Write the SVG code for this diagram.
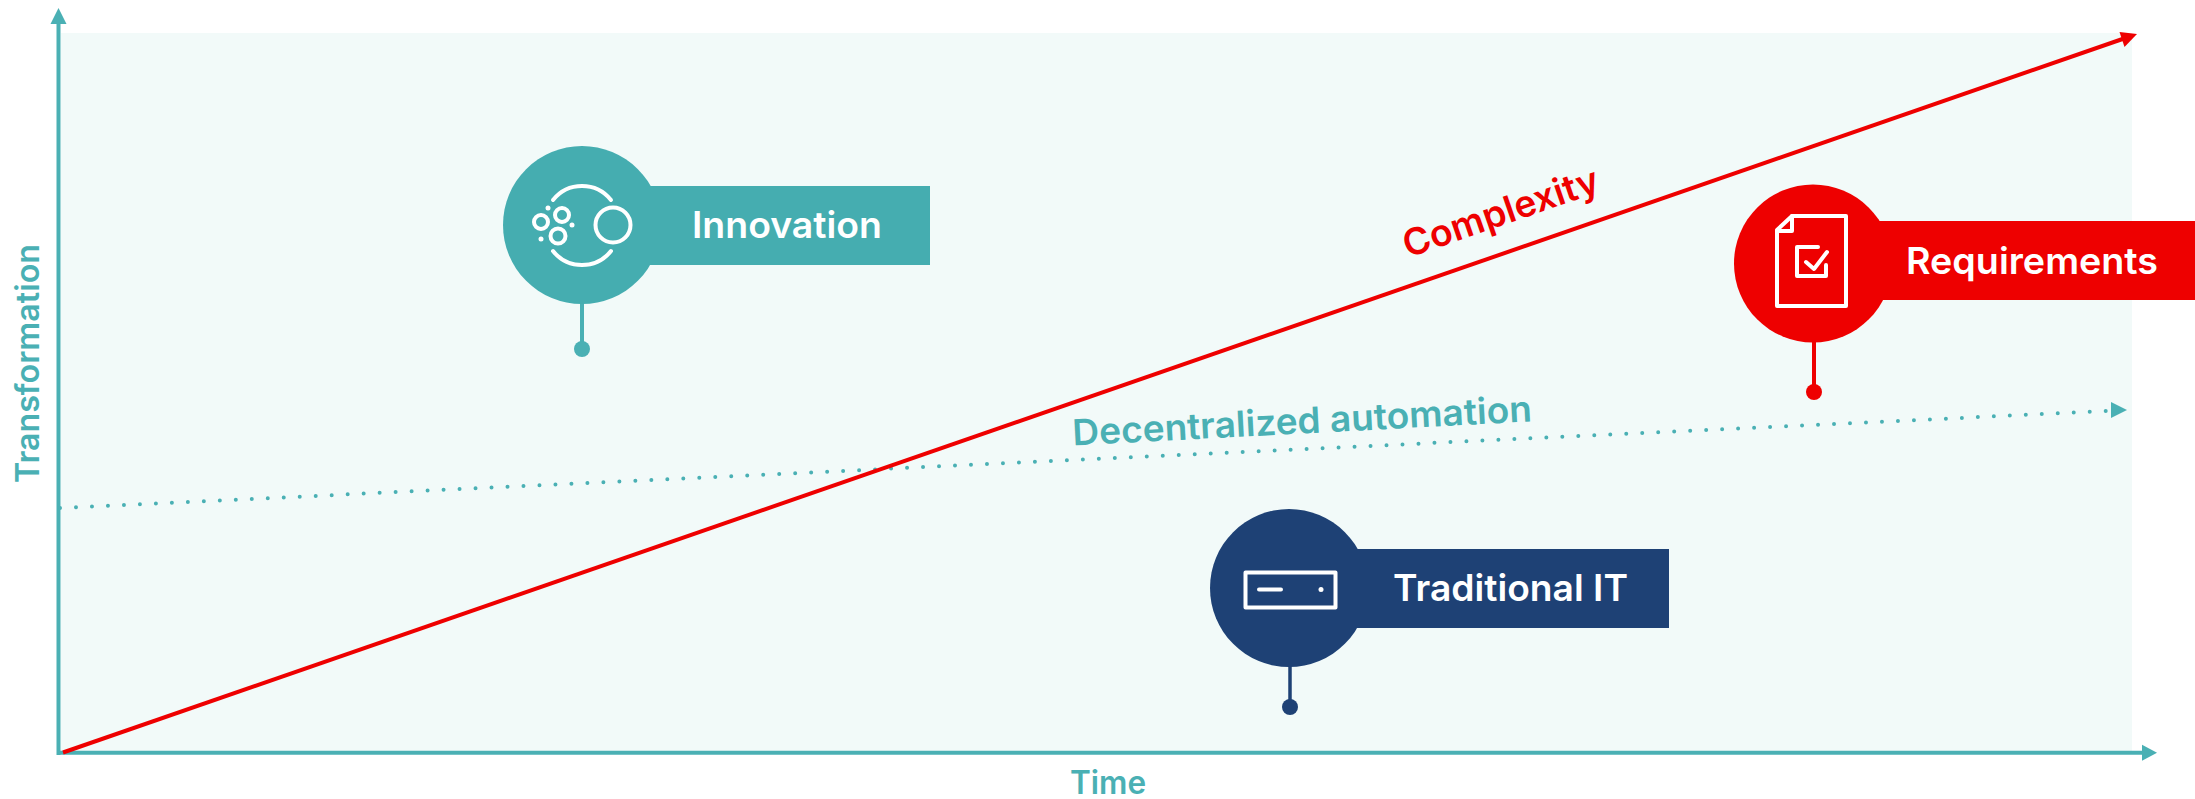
<svg xmlns="http://www.w3.org/2000/svg" width="2195" height="799" viewBox="0 0 2195 799">
<defs>
<style>
text{font-family:"Inter","Noto Sans","Liberation Sans",sans-serif;font-weight:600}
.lbl{fill:#fff;font-size:37px;text-anchor:start}
.ax{fill:#4ab0b4;font-size:32px}
.ic{fill:none;stroke:#fff;stroke-width:4;stroke-linecap:round;stroke-linejoin:round}
.w{fill:#fff}
</style>
</defs>
<rect id="plot" x="61" y="33" width="2071" height="718" fill="#f2faf9"/>
<g id="connectors">
<path d="M58.500 755V22" stroke="#4ab0b4" stroke-width="4" fill="none"/>
<path d="M58.500 8L66.500 24H50.500Z" fill="#4ab0b4"/>
<path d="M57 752.700H2144" stroke="#4ab0b4" stroke-width="4" fill="none"/>
<path d="M2157 752.700L2142 760.700V744.700Z" fill="#4ab0b4"/>
<path d="M60 508L2107 411" stroke="#4ab0b4" stroke-width="4" stroke-linecap="round" stroke-dasharray="0 16" fill="none"/>
<path d="M2127 410L2111 402V418Z" fill="#4ab0b4"/>
<path d="M63 752.500L2124 38.500" stroke="#ee0000" stroke-width="4" fill="none"/>
<path d="M2137 34L2119.500 32L2124.500 47Z" fill="#ee0000"/>
</g>
<text id="label-time" class="ax" x="1070" y="794" textLength="76" lengthAdjust="spacingAndGlyphs">Time</text>
<text id="label-transformation" class="ax" transform="translate(38.500 483) rotate(-90)" textLength="239" lengthAdjust="spacingAndGlyphs">Transformation</text>
<text id="label-complexity" transform="translate(1408 258) rotate(-19.100)" fill="#ee0000" font-size="37" textLength="205" lengthAdjust="spacingAndGlyphs">Complexity</text>
<text id="label-decentralized" transform="translate(1073 445.500) rotate(-3)" fill="#4ab0b4" font-size="36" textLength="460" lengthAdjust="spacingAndGlyphs">Decentralized automation</text>
<g id="node-innovation">
<path d="M582 225V349" stroke="#4ab0b4" stroke-width="4"/>
<circle cx="582" cy="349" r="8" fill="#4ab0b4"/>
<circle cx="582" cy="225" r="79" fill="#45adb0"/>
<rect x="640" y="186" width="290" height="79" fill="#45adb0"/>
<g class="ic">
<path d="M553 200A37 37 0 0 1 611 200"/>
<path d="M553 251A37 37 0 0 0 611 251"/>
<circle cx="613" cy="225" r="17.500"/>
<circle cx="541" cy="222" r="7"/>
<circle cx="562" cy="215" r="7"/>
<circle cx="558" cy="236" r="7.500"/>
</g>
<circle class="w" cx="548" cy="208" r="2.500"/>
<circle class="w" cx="572" cy="225" r="2.500"/>
<circle class="w" cx="541" cy="239" r="2.500"/>
<text class="lbl" x="692" y="237.500" textLength="190" lengthAdjust="spacingAndGlyphs">Innovation</text>
</g>
<g id="node-requirements">
<path d="M1814 263V392" stroke="#ee0000" stroke-width="4"/>
<circle cx="1814" cy="392" r="8" fill="#ee0000"/>
<circle cx="1813" cy="263.500" r="79" fill="#ee0000"/>
<rect x="1870" y="221" width="325" height="79" fill="#ee0000"/>
<g class="ic">
<path d="M1792 216H1846V306H1777V230Z"/>
<path d="M1792 216V231H1777"/>
<path d="M1818 247H1797V276H1826V265"/>
<path d="M1806 262L1814 269L1827 252"/>
</g>
<text class="lbl" x="1906" y="273.500" textLength="252" lengthAdjust="spacingAndGlyphs">Requirements</text>
</g>
<g id="node-traditional">
<path d="M1290 588V707" stroke="#1e4175" stroke-width="3.500"/>
<circle cx="1290" cy="707" r="8" fill="#1e4175"/>
<circle cx="1289" cy="588" r="79" fill="#1e4175"/>
<rect x="1345" y="549" width="324" height="79" fill="#1e4175"/>
<g class="ic">
<rect x="1245.500" y="572.500" width="90" height="35"/>
<path d="M1259 589.500H1281"/>
</g>
<circle class="w" cx="1321" cy="589.500" r="2.500"/>
<text class="lbl" x="1393" y="600.500" textLength="235" lengthAdjust="spacingAndGlyphs">Traditional IT</text>
</g>
</svg>
